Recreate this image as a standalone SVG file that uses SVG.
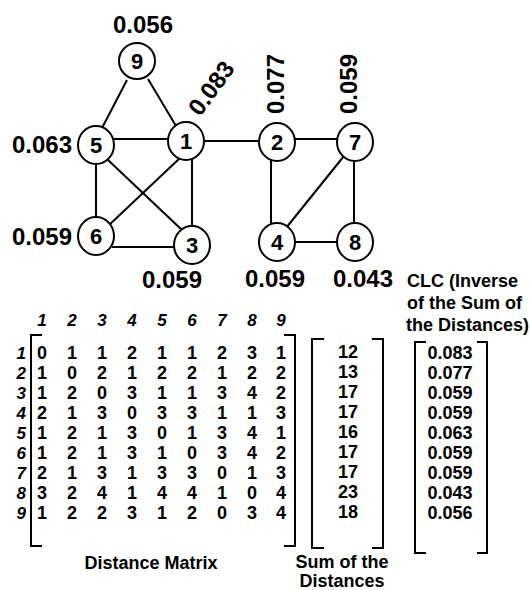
<svg xmlns="http://www.w3.org/2000/svg" width="530" height="590" viewBox="0 0 530 590">
<style>
text{font-family:"Liberation Sans",Arial,sans-serif;font-weight:bold;fill:#000}
.lab{font-size:24px}
.nd{font-size:22px;text-anchor:middle}
.node ellipse{fill:#fff;stroke:#000;stroke-width:2}
.edges line{stroke:#000;stroke-width:2}
.br{fill:none;stroke:#000;stroke-width:2}
.hd{font-size:17px;font-style:italic;text-anchor:middle}
.rl{font-size:17px;font-style:italic;text-anchor:end}
.mv{font-size:18px;text-anchor:middle}
.cap{font-size:18px}
</style>
<rect width="530" height="590" fill="#fff"/>
<g id="edges" class="edges">
<line x1="127" y1="80" x2="102" y2="128"/>
<line x1="148" y1="79" x2="176" y2="126"/>
<line x1="112" y1="139" x2="170" y2="139"/>
<line x1="202" y1="141" x2="260" y2="141"/>
<line x1="293" y1="139" x2="339" y2="139"/>
<line x1="96" y1="160" x2="96" y2="220"/>
<line x1="108" y1="160" x2="182" y2="230"/>
<line x1="180" y1="158" x2="108" y2="226"/>
<line x1="192" y1="158" x2="192" y2="228"/>
<line x1="112" y1="247" x2="176" y2="247"/>
<line x1="271" y1="158" x2="271" y2="226"/>
<line x1="344" y1="156" x2="286" y2="228"/>
<line x1="354" y1="158" x2="354" y2="226"/>
<line x1="293" y1="242" x2="339" y2="242"/>
</g>
<g id="node9" class="node"><ellipse cx="137" cy="61" rx="18" ry="18"/><text class="nd" x="137" y="69">9</text></g>
<g id="node5" class="node"><ellipse cx="96" cy="145" rx="18" ry="19"/><text class="nd" x="96" y="153">5</text></g>
<g id="node1" class="node"><ellipse cx="186" cy="141" rx="18" ry="19"/><text class="nd" x="186" y="149">1</text></g>
<g id="node2" class="node"><ellipse cx="277" cy="142" rx="18" ry="19"/><text class="nd" x="277" y="150">2</text></g>
<g id="node7" class="node"><ellipse cx="355" cy="142" rx="18" ry="19"/><text class="nd" x="355" y="150">7</text></g>
<g id="node6" class="node"><ellipse cx="96" cy="236" rx="18" ry="19"/><text class="nd" x="96" y="244">6</text></g>
<g id="node3" class="node"><ellipse cx="192" cy="245" rx="18" ry="19"/><text class="nd" x="192" y="253">3</text></g>
<g id="node4" class="node"><ellipse cx="277" cy="242" rx="18" ry="19"/><text class="nd" x="277" y="250">4</text></g>
<g id="node8" class="node"><ellipse cx="355" cy="242" rx="18" ry="19"/><text class="nd" x="355" y="250">8</text></g>
<g id="labels">
<text class="lab" x="143" y="33" text-anchor="middle">0.056</text>
<text class="lab" x="12" y="153">0.063</text>
<text class="lab" x="12" y="245">0.059</text>
<text class="lab" x="172" y="288" text-anchor="middle">0.059</text>
<text class="lab" x="275" y="287" text-anchor="middle">0.059</text>
<text class="lab" x="363" y="287" text-anchor="middle">0.043</text>
<text class="lab" text-anchor="middle" transform="translate(218,93) rotate(-54)">0.083</text>
<text class="lab" text-anchor="middle" transform="translate(284,84) rotate(-90)">0.077</text>
<text class="lab" text-anchor="middle" transform="translate(357,84) rotate(-90)">0.059</text>
<text class="cap" x="407" y="287">CLC (Inverse</text>
<text class="cap" x="407" y="309">of the Sum of</text>
<text class="cap" x="406" y="331">the Distances)</text>
</g>
<g id="matrix">
<g id="headers">
<text class="hd" x="42" y="326">1</text><text class="hd" x="72" y="326">2</text><text class="hd" x="102" y="326">3</text><text class="hd" x="132" y="326">4</text><text class="hd" x="162" y="326">5</text><text class="hd" x="192" y="326">6</text><text class="hd" x="222" y="326">7</text><text class="hd" x="252" y="326">8</text><text class="hd" x="281" y="326">9</text>
</g>
<g id="rowlabels">
<text class="rl" x="26" y="359">1</text><text class="rl" x="26" y="379">2</text><text class="rl" x="26" y="399">3</text><text class="rl" x="26" y="419">4</text><text class="rl" x="26" y="439">5</text><text class="rl" x="26" y="459">6</text><text class="rl" x="26" y="479">7</text><text class="rl" x="26" y="499">8</text><text class="rl" x="26" y="519">9</text>
</g>
<path class="br" d="M42,335 H31 V546 H42"/>
<path class="br" d="M284,335 H295 V546 H284"/>
<g id="values">
<text class="mv" y="359"><tspan x="42">0</tspan><tspan x="72">1</tspan><tspan x="102">1</tspan><tspan x="132">2</tspan><tspan x="162">1</tspan><tspan x="192">1</tspan><tspan x="222">2</tspan><tspan x="252">3</tspan><tspan x="281">1</tspan></text>
<text class="mv" y="379"><tspan x="42">1</tspan><tspan x="72">0</tspan><tspan x="102">2</tspan><tspan x="132">1</tspan><tspan x="162">2</tspan><tspan x="192">2</tspan><tspan x="222">1</tspan><tspan x="252">2</tspan><tspan x="281">2</tspan></text>
<text class="mv" y="399"><tspan x="42">1</tspan><tspan x="72">2</tspan><tspan x="102">0</tspan><tspan x="132">3</tspan><tspan x="162">1</tspan><tspan x="192">1</tspan><tspan x="222">3</tspan><tspan x="252">4</tspan><tspan x="281">2</tspan></text>
<text class="mv" y="419"><tspan x="42">2</tspan><tspan x="72">1</tspan><tspan x="102">3</tspan><tspan x="132">0</tspan><tspan x="162">3</tspan><tspan x="192">3</tspan><tspan x="222">1</tspan><tspan x="252">1</tspan><tspan x="281">3</tspan></text>
<text class="mv" y="439"><tspan x="42">1</tspan><tspan x="72">2</tspan><tspan x="102">1</tspan><tspan x="132">3</tspan><tspan x="162">0</tspan><tspan x="192">1</tspan><tspan x="222">3</tspan><tspan x="252">4</tspan><tspan x="281">1</tspan></text>
<text class="mv" y="459"><tspan x="42">1</tspan><tspan x="72">2</tspan><tspan x="102">1</tspan><tspan x="132">3</tspan><tspan x="162">1</tspan><tspan x="192">0</tspan><tspan x="222">3</tspan><tspan x="252">4</tspan><tspan x="281">2</tspan></text>
<text class="mv" y="479"><tspan x="42">2</tspan><tspan x="72">1</tspan><tspan x="102">3</tspan><tspan x="132">1</tspan><tspan x="162">3</tspan><tspan x="192">3</tspan><tspan x="222">0</tspan><tspan x="252">1</tspan><tspan x="281">3</tspan></text>
<text class="mv" y="499"><tspan x="42">3</tspan><tspan x="72">2</tspan><tspan x="102">4</tspan><tspan x="132">1</tspan><tspan x="162">4</tspan><tspan x="192">4</tspan><tspan x="222">1</tspan><tspan x="252">0</tspan><tspan x="281">4</tspan></text>
<text class="mv" y="519"><tspan x="42">1</tspan><tspan x="72">2</tspan><tspan x="102">2</tspan><tspan x="132">3</tspan><tspan x="162">1</tspan><tspan x="192">2</tspan><tspan x="222">0</tspan><tspan x="252">3</tspan><tspan x="281">4</tspan></text>
</g>
<text class="cap" x="151" y="569" text-anchor="middle">Distance Matrix</text>
</g>
<g id="sums">
<path class="br" d="M324,339 H312 V548 H324"/>
<path class="br" d="M372,339 H383 V548 H372"/>
<text class="mv" x="348" y="358">12</text><text class="mv" x="348" y="378">13</text><text class="mv" x="348" y="398">17</text><text class="mv" x="348" y="418">17</text><text class="mv" x="348" y="438">16</text><text class="mv" x="348" y="458">17</text><text class="mv" x="348" y="478">17</text><text class="mv" x="348" y="498">23</text><text class="mv" x="348" y="518">18</text>
<text class="cap" x="342" y="568" text-anchor="middle">Sum of the</text>
<text class="cap" x="342" y="587" text-anchor="middle">Distances</text>
</g>
<g id="clc">
<path class="br" d="M426,342 H415 V553 H426"/>
<path class="br" d="M477,342 H487 V553 H477"/>
<text class="mv" x="450" y="359">0.083</text><text class="mv" x="450" y="379">0.077</text><text class="mv" x="450" y="399">0.059</text><text class="mv" x="450" y="419">0.059</text><text class="mv" x="450" y="439">0.063</text><text class="mv" x="450" y="459">0.059</text><text class="mv" x="450" y="479">0.059</text><text class="mv" x="450" y="499">0.043</text><text class="mv" x="450" y="519">0.056</text>
</g>
</svg>
